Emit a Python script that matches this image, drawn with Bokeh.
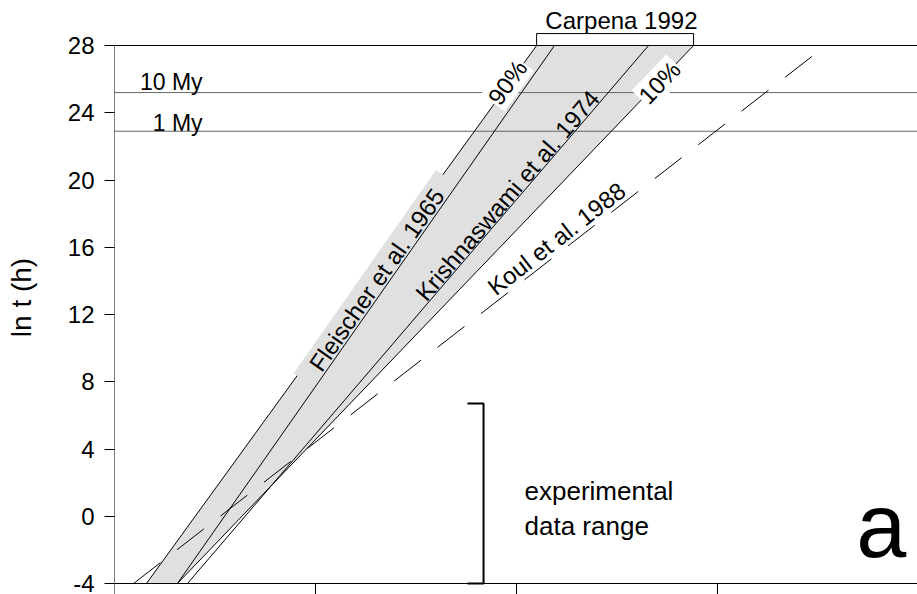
from bokeh.plotting import figure
from bokeh.models import Range1d, FixedTicker, Label, ColumnDataSource
from bokeh.embed import file_html
from bokeh.resources import INLINE

FONT = "Liberation Sans"

# ---- data ----
y_ticks = [-4, 0, 4, 8, 12, 16, 20, 24, 28]
x_ticks = [0, 1, 2, 3, 4]
line_y = [-4, 28]                      # all model lines run from ln t = -4 to 28
p90_x = [0.159, 2.100]                 # Carpena 1992, 90 %
fleischer_x = [0.313, 2.189]           # Fleischer et al. 1965
krishnaswami_x = [0.363, 2.657]        # Krishnaswami et al. 1974
p10_x = [0.313, 2.881]                 # Carpena 1992, 10 %
koul_x = [0.095, 3.54]                 # Koul et al. 1988
my_values = [25.2, 22.9]               # ln(hours) of 10 My and 1 My
my_labels = ["10 My", "1 My"]
exp_range = [-4, 6.7]                  # experimental data range (ln t)
exp_x = 1.836

X_END = 3.995
Y_LO, Y_HI = -4.654, 30.677

p = figure(width=917, height=594, output_backend="svg", toolbar_location=None,
           x_range=Range1d(0, X_END), y_range=Range1d(Y_LO, Y_HI),
           x_axis_type=None, min_border_left=114, min_border_right=0,
           min_border_top=0, min_border_bottom=0)
p.grid.visible = False
p.outline_line_color = None
p.background_fill_color = "white"

ax = p.yaxis[0]
ax.ticker = FixedTicker(ticks=y_ticks)
ax.major_label_overrides = {t: str(t) for t in y_ticks}
ax.axis_line_color = None
ax.major_tick_out = 10
ax.major_tick_in = 0
ax.major_tick_line_color = "black"
ax.minor_tick_line_color = None
ax.major_label_text_font = FONT
ax.major_label_text_font_size = "24px"
ax.major_label_text_color = "black"
ax.major_label_standoff = 10
ax.axis_label = "ln t (h)"
ax.axis_label_text_font = FONT
ax.axis_label_text_font_size = "28px"
ax.axis_label_text_font_style = "normal"
ax.axis_label_text_color = "black"
ax.axis_label_standoff = 28

# gray band between 90% and 10%
p.patch(x=[p90_x[0], p90_x[1], p10_x[1], p10_x[0]], y=[line_y[0], line_y[1], line_y[1], line_y[0]],
        fill_color="#e0e0e0", line_color=None)

# horizontal age lines
my_src = ColumnDataSource(dict(y=my_values, x0=[0] * len(my_values), x1=[X_END] * len(my_values)))
p.segment(x0="x0", y0="y", x1="x1", y1="y", source=my_src, line_color="#666666", line_width=1)

# frame lines / axis
p.segment(x0=[0, 0], y0=[28, -4], x1=[X_END, X_END], y1=[28, -4], line_color="black", line_width=1)
p.segment(x0=[0], y0=[-4], x1=[0], y1=[28], line_color="black", line_width=1)
p.segment(x0=x_ticks, y0=[-4] * len(x_ticks), x1=x_ticks, y1=[-4 - 11 / 16.8125] * len(x_ticks),
          line_color="black", line_width=1)

# model lines
p.line(p90_x, line_y, line_color="black", line_width=1)
p.line(p10_x, line_y, line_color="black", line_width=1)
rf = p.line(fleischer_x, line_y, line_color="black", line_width=1)
rf.level = "overlay"
rk = p.line(krishnaswami_x, line_y, line_color="black", line_width=1)
rk.level = "overlay"
p.line(koul_x, line_y, line_color="black", line_width=1, line_dash="34 21")

# Carpena bracket
p.line(x=[p90_x[1], p90_x[1], p10_x[1], p10_x[1]], y=[28, 28.71, 28.71, 28],
       line_color="black", line_width=1)

# experimental data range bracket
p.line(x=[exp_x - 0.08, exp_x, exp_x, exp_x - 0.08], y=[exp_range[1], exp_range[1], exp_range[0], exp_range[0]],
       line_color="black", line_width=2)


def lab(x, y, text, size="24px", align="left", baseline="middle", angle=0, bg=None, pad=0):
    kw = {}
    if bg is not None:
        kw = dict(background_fill_color=bg, background_fill_alpha=1.0, padding=pad)
    lb = Label(x=x, y=y, text=text, text_font=FONT, text_font_size=size, text_color="black",
               text_align=align, text_baseline=baseline, angle=angle, angle_units="deg", **kw)
    p.add_layout(lb)


lab(0.438, 25.80, my_labels[0], size="23px", align="right")
lab(0.438, 23.42, my_labels[1], size="23px", align="right")
lab(2.522, 29.49, "Carpena 1992", align="center")
lab(1.303, 14.08, "Fleischer et al. 1965", align="center", angle=55.0,
    bg="#e0e0e0", pad=dict(left=16, right=16, top=1, bottom=0))
lab(1.955, 19.08, "Krishnaswami et al. 1974", align="center", angle=49.4)
lab(2.199, 16.51, "Koul et al. 1988", align="center", angle=37.9)
lab(1.955, 25.80, "90%", align="center", angle=54.1, bg="white", pad=1)
lab(2.711, 25.80, "10%", align="center", angle=46.2, bg="white", pad=1)
lab(2.04, 1.53, "experimental", size="26px")
lab(2.04, -0.58, "data range", size="26px")
lab(3.69, -0.58, "a", size="90px")

open("out.html", "w").write(file_html(p, INLINE))
